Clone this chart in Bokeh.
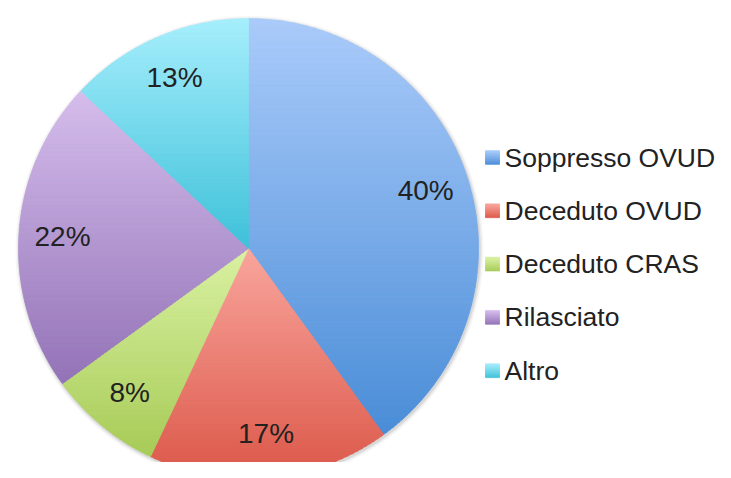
import numpy as np
from bokeh.plotting import figure
from bokeh.models import Range1d
from bokeh.core.properties import value
from bokeh.embed import file_html
from bokeh.resources import INLINE

# ---- data ----
categories = ["Soppresso OVUD", "Deceduto OVUD", "Deceduto CRAS", "Rilasciato", "Altro"]
values = [40, 17, 8, 22, 13]
top_colors = ["#aacbfa", "#f9a59d", "#d9f1a2", "#d5bdec", "#a6eefc"]
bottom_colors = ["#4a8dd7", "#db5849", "#a7cb57", "#9373b7", "#3ec1d9"]

W, H = 715, 462
FONT = "Liberation Sans"
TXT = "#222222"

p = figure(width=W, height=H, output_backend="svg", toolbar_location=None,
           x_range=Range1d(0, W), y_range=Range1d(0, H), min_border=0)
p.axis.visible = False
p.grid.visible = False
p.outline_line_color = None
p.background_fill_color = "white"
p.border_fill_color = "white"

cx, cy, R = 248.0, 214.0, 230.0


def hex2rgb(h):
    h = h.lstrip("#")
    return np.array([int(h[i:i + 2], 16) for i in (0, 2, 4)], dtype=float)


def rgb2hex(c):
    c = np.clip(np.round(c), 0, 255).astype(int)
    return "#%02x%02x%02x" % tuple(c)


def clip_half(pts, y0, keep_above):
    out = []
    n = len(pts)
    for i in range(n):
        cur = pts[i]
        prev = pts[i - 1]
        cin = cur[1] >= y0 if keep_above else cur[1] <= y0
        pin = prev[1] >= y0 if keep_above else prev[1] <= y0
        if cin:
            if not pin:
                t = (y0 - prev[1]) / (cur[1] - prev[1])
                out.append((prev[0] + t * (cur[0] - prev[0]), y0))
            out.append(cur)
        elif pin:
            t = (y0 - prev[1]) / (cur[1] - prev[1])
            out.append((prev[0] + t * (cur[0] - prev[0]), y0))
    return out


def gradient_patches(xs, ys, ctop, cbot, step=2.5):
    pts = list(zip(xs, ys))
    ymin, ymax = min(ys), max(ys)
    nb = max(2, int(np.ceil((ymax - ymin) / step)))
    edges = np.linspace(ymin, ymax, nb + 1)
    t_rgb, b_rgb = hex2rgb(ctop), hex2rgb(cbot)
    out_x, out_y, cols = [], [], []
    for k in range(nb):
        lo, hi = edges[k] - 0.4, edges[k + 1] + 0.4
        poly = clip_half(pts, lo, True)
        if len(poly) < 3:
            continue
        poly = clip_half(poly, hi, False)
        if len(poly) < 3:
            continue
        tmid = ((edges[k] + edges[k + 1]) / 2 - ymin) / (ymax - ymin)
        col = rgb2hex(b_rgb + (t_rgb - b_rgb) * tmid)
        out_x.append([q[0] for q in poly])
        out_y.append([q[1] for q in poly])
        cols.append(col)
    return out_x, out_y, cols


# soft shadow
for dr, a in [(4, 0.035), (2.5, 0.05), (1.2, 0.07)]:
    p.circle(x=[cx + 1], y=[cy - 1.5], radius=R + dr, fill_color="black",
             fill_alpha=a, line_color=None)

total = float(sum(values))
fracs = [v / total for v in values]
cum = np.concatenate([[0.0], np.cumsum(fracs)])

all_x, all_y, all_c = [], [], []
for i, f in enumerate(fracs):
    a0 = np.pi / 2 - 2 * np.pi * cum[i]
    a1 = np.pi / 2 - 2 * np.pi * cum[i + 1]
    ang = np.linspace(a0, a1, max(8, int(abs(a1 - a0) * 80)))
    xs = [cx] + list(cx + R * np.cos(ang))
    ys = [cy] + list(cy + R * np.sin(ang))
    gx, gy, gc = gradient_patches(xs, ys, top_colors[i], bottom_colors[i])
    all_x += gx
    all_y += gy
    all_c += gc

p.patches(xs=all_x, ys=all_y, fill_color=all_c, line_color=all_c, line_width=0.6)

# percentage labels
lab_x, lab_y, lab_t = [], [], []
for i, f in enumerate(fracs):
    amid = np.pi / 2 - 2 * np.pi * (cum[i] + cum[i + 1]) / 2
    rr = 0.81 * R
    lab_x.append(cx + rr * np.cos(amid))
    lab_y.append(cy + rr * np.sin(amid))
    lab_t.append("%d%%" % round(values[i] / total * 100))
p.text(x=lab_x, y=lab_y, text=lab_t, text_align="center", text_baseline="middle",
       text_font=value(FONT), text_font_size="28px", text_color=TXT)

# legend (manual)
leg_x, leg_top, leg_step, sw = 485.0, 305.0, 53.3, 14.0
lx, ly, lc = [], [], []
for i, c in enumerate(categories):
    yc = leg_top - i * leg_step
    sx = [leg_x, leg_x + sw, leg_x + sw, leg_x]
    sy = [yc - sw / 2, yc - sw / 2, yc + sw / 2, yc + sw / 2]
    gx, gy, gc = gradient_patches(sx, sy, top_colors[i], bottom_colors[i], step=1.0)
    lx += gx
    ly += gy
    lc += gc
p.patches(xs=lx, ys=ly, fill_color=lc, line_color=lc, line_width=0.4)
p.text(x=[leg_x + sw + 5] * len(categories),
       y=[leg_top - i * leg_step for i in range(len(categories))],
       text=categories, text_align="left", text_baseline="middle",
       text_font=value(FONT), text_font_size="26.5px", text_color=TXT)

open("out.html", "w").write(file_html(p, INLINE))
